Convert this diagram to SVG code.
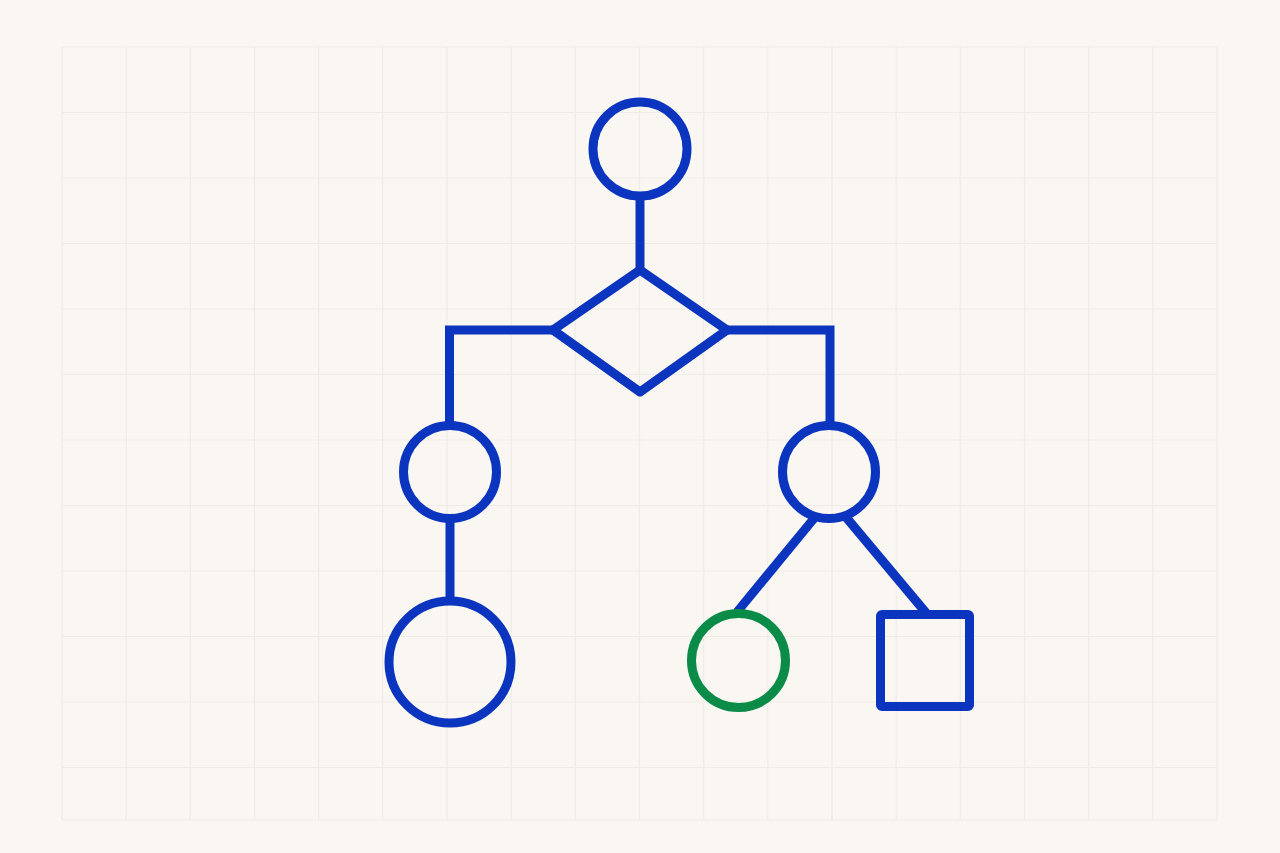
<svg xmlns="http://www.w3.org/2000/svg" width="1280" height="853" viewBox="0 0 1280 853">
<defs>
<style>
.grid line{stroke:#efebe7;stroke-width:1.2}
.conn line,.conn polyline{stroke:#0b35bf;stroke-width:9;fill:none;stroke-linejoin:miter;stroke-linecap:butt}
.node{fill:none;stroke:#0b35bf;stroke-width:9;stroke-linejoin:round}
.green{stroke:#0a8c48}
</style>
</defs>
<rect width="1280" height="853" fill="#faf7f3"/>
<g class="grid">
<line x1="62" y1="47" x2="62" y2="820"/><line x1="126.2" y1="47" x2="126.2" y2="820"/><line x1="190.3" y1="47" x2="190.3" y2="820"/><line x1="254.5" y1="47" x2="254.5" y2="820"/><line x1="318.7" y1="47" x2="318.7" y2="820"/><line x1="382.8" y1="47" x2="382.8" y2="820"/><line x1="447" y1="47" x2="447" y2="820"/><line x1="511.2" y1="47" x2="511.2" y2="820"/><line x1="575.3" y1="47" x2="575.3" y2="820"/><line x1="639.5" y1="47" x2="639.5" y2="820"/><line x1="703.7" y1="47" x2="703.7" y2="820"/><line x1="767.8" y1="47" x2="767.8" y2="820"/><line x1="832" y1="47" x2="832" y2="820"/><line x1="896.2" y1="47" x2="896.2" y2="820"/><line x1="960.3" y1="47" x2="960.3" y2="820"/><line x1="1024.5" y1="47" x2="1024.5" y2="820"/><line x1="1088.7" y1="47" x2="1088.7" y2="820"/><line x1="1152.8" y1="47" x2="1152.8" y2="820"/><line x1="1217" y1="47" x2="1217" y2="820"/>
<line x1="62" y1="47" x2="1217" y2="47"/><line x1="62" y1="112.5" x2="1217" y2="112.5"/><line x1="62" y1="178" x2="1217" y2="178"/><line x1="62" y1="243.5" x2="1217" y2="243.5"/><line x1="62" y1="309" x2="1217" y2="309"/><line x1="62" y1="374.5" x2="1217" y2="374.5"/><line x1="62" y1="440" x2="1217" y2="440"/><line x1="62" y1="505.5" x2="1217" y2="505.5"/><line x1="62" y1="571" x2="1217" y2="571"/><line x1="62" y1="636.5" x2="1217" y2="636.5"/><line x1="62" y1="702" x2="1217" y2="702"/><line x1="62" y1="767.5" x2="1217" y2="767.5"/><line x1="62" y1="820" x2="1217" y2="820"/>
</g>
<g class="conn" id="connectors">
<line x1="640" y1="196" x2="640" y2="270"/>
<polyline points="553,330 449.5,330 449.5,425"/>
<polyline points="727,330 830,330 830,425"/>
<line x1="450" y1="518" x2="450" y2="601"/>
<line x1="816" y1="516" x2="737" y2="612"/>
<line x1="845" y1="516" x2="927" y2="614"/>
</g>
<g id="top"><circle class="node" cx="640" cy="149" r="47"/></g>
<g id="decision"><polygon class="node" points="640,270 553,330 640,392 727,330"/></g>
<g id="left"><circle class="node" cx="450" cy="472" r="46.5"/></g>
<g id="leftBottom"><circle class="node" cx="450" cy="662" r="61"/></g>
<g id="right"><circle class="node" cx="829" cy="472" r="46.5"/></g>
<g id="greenCircle"><circle class="node green" cx="738.5" cy="660.5" r="47"/></g>
<g id="square"><rect class="node" x="880.5" y="614.5" width="89" height="92" rx="1.5"/></g>
</svg>
